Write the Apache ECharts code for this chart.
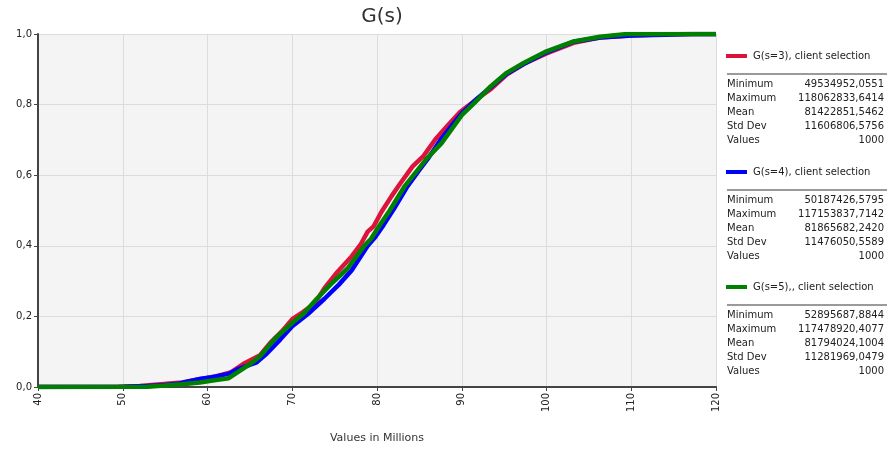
<!DOCTYPE html>
<html>
<head>
<meta charset="utf-8">
<script src="https://cdn.jsdelivr.net/npm/echarts@6/dist/echarts.min.js"></script>
<style>
html,body{margin:0;padding:0;background:#fff;}
#chart{width:890px;height:449px;}
</style>
</head>
<body>
<div id="chart"></div>
<script>
// ---- data (x in millions, cumulative probability) ----
const seriesNames = ['G(s=3), client selection', 'G(s=4), client selection', 'G(s=5),, client selection'];
const seriesColors = ['#dc143c', '#0000ff', '#008000'];

const redX = [40,49.5,52,54.5,57,59,61,62.8,64.2,66.2,67.4,68.8,70,71.3,72.7,73.8,75.3,77.0,78.1,78.9,79.6,80.5,81.7,82.7,84.2,85.5,87.0,88.5,89.8,91.8,93.5,95.3,97.3,100,103.2,106.3,110,114,118.06,120];
const redY = [0,0.001,0.003,0.008,0.013,0.022,0.03,0.042,0.065,0.09,0.125,0.158,0.192,0.213,0.238,0.28,0.325,0.37,0.405,0.44,0.455,0.495,0.54,0.575,0.625,0.655,0.705,0.745,0.779,0.816,0.845,0.885,0.915,0.945,0.975,0.99,0.996,0.999,1,1];

const blueX = [40,50.2,53,55,56.7,59.1,60.5,62.6,63.5,65.8,67,68.6,70,72,73.8,75.5,77,78.9,79.8,80.8,82,83.5,85,86.1,87.5,88.8,90,91.5,93.3,95.3,97.3,100,103.2,106.3,110,114,117.15,120];
const blueY = [0,0.001,0.003,0.006,0.01,0.023,0.028,0.038,0.05,0.07,0.095,0.135,0.172,0.21,0.25,0.29,0.33,0.4,0.425,0.46,0.505,0.565,0.615,0.65,0.7,0.74,0.775,0.81,0.847,0.887,0.915,0.948,0.978,0.99,0.996,0.998,1,1];

const greenX = [40,52.9,55,57,59.1,61,62.5,63.8,65.2,66.2,68,70,71.3,72.9,74.5,76.5,78.5,79.3,80.2,81.5,83.3,85.8,87.6,90,91.5,93.3,95.3,97.3,100,103.2,106.3,109.5,117.48,120];
const greenY = [0,0.001,0.004,0.008,0.013,0.02,0.025,0.046,0.068,0.087,0.138,0.182,0.207,0.25,0.29,0.335,0.4,0.42,0.454,0.5,0.57,0.645,0.69,0.77,0.805,0.849,0.89,0.918,0.951,0.979,0.992,1,1,1];

const statLabels = ['Minimum', 'Maximum', 'Mean', 'Std Dev', 'Values'];
const stats3 = ['49534952,0551', '118062833,6414', '81422851,5462', '11606806,5756', '1000'];
const stats4 = ['50187426,5795', '117153837,7142', '81865682,2420', '11476050,5589', '1000'];
const stats5 = ['52895687,8844', '117478920,4077', '81794024,1004', '11281969,0479', '1000'];

const xTicks = [40, 50, 60, 70, 80, 90, 100, 110, 120];
const yTicks = [0, 0.2, 0.4, 0.6, 0.8, 1.0];

// ---- build ----
const xs = [redX, blueX, greenX];
const ys = [redY, blueY, greenY];
const allStats = [stats3, stats4, stats5];
const blockTops = [58, 174, 289];
const FONT = '"DejaVu Sans", Verdana, sans-serif';

const series = seriesNames.map((n, i) => ({
  name: n,
  type: 'line',
  data: xs[i].map((x, k) => [x, ys[i][k]]),
  showSymbol: false,
  symbol: 'none',
  lineStyle: { color: seriesColors[i], width: 4.5 },
  itemStyle: { color: seriesColors[i] },
  z: 2 + i
}));

const legends = seriesNames.map((n, i) => ({
  data: [n],
  left: 726,
  top: blockTops[i] - 7,
  orient: 'vertical',
  icon: 'rect',
  itemWidth: 21,
  itemHeight: 4,
  itemGap: 4,
  selectedMode: false,
  textStyle: { fontFamily: FONT, fontSize: 10, color: '#222', padding: [0,0,0,1] },
  padding: 0
}));

const graphics = [];
blockTops.forEach((t, i) => {
  graphics.push({
    type: 'line',
    shape: { x1: 727, y1: t + 16, x2: 887, y2: t + 16 },
    style: { stroke: '#9a9a9a', lineWidth: 2 }
  });
  statLabels.forEach((lab, k) => {
    const yy = t + 26 + k * 14;
    graphics.push({
      type: 'text', x: 727, y: yy,
      style: { text: lab, font: '10px ' + FONT, fill: '#222', textVerticalAlign: 'middle', textAlign: 'left' }
    });
    graphics.push({
      type: 'text', x: 884, y: yy,
      style: { text: allStats[i][k], font: '10px ' + FONT, fill: '#222', textVerticalAlign: 'middle', textAlign: 'right' }
    });
  });
});

const chart = echarts.init(document.getElementById('chart'), null, { renderer: 'canvas' });
chart.setOption({
  animation: false,
  backgroundColor: '#ffffff',
  title: {
    text: 'G(s)',
    left: 377,
    textAlign: 'center',
    top: 2,
    textStyle: { fontFamily: FONT, fontSize: 20, fontWeight: 'normal', color: '#333' }
  },
  legend: legends,
  grid: {
    left: 38, right: 174, top: 34, bottom: 56,
    show: true, backgroundColor: '#f4f4f4', borderWidth: 0
  },
  xAxis: {
    type: 'value',
    min: xTicks[0], max: xTicks[xTicks.length - 1], interval: 10,
    name: 'Values in Millions',
    nameLocation: 'middle',
    nameGap: 46,
    nameTextStyle: { fontFamily: FONT, fontSize: 11, color: '#333' },
    axisLine: { show: true, onZero: false, lineStyle: { color: '#444', width: 2 } },
    axisTick: { show: true, length: 4, lineStyle: { color: '#444' } },
    axisLabel: { rotate: 90, fontFamily: FONT, fontSize: 10, color: '#222', margin: 6 },
    splitLine: { show: true, lineStyle: { color: '#dcdcdc', width: 1 } }
  },
  yAxis: {
    type: 'value',
    min: yTicks[0], max: yTicks[yTicks.length - 1], interval: 0.2,
    axisLine: { show: true, lineStyle: { color: '#444', width: 2 } },
    axisTick: { show: true, length: 4, lineStyle: { color: '#444' } },
    axisLabel: {
      fontFamily: FONT, fontSize: 10, color: '#222', margin: 6,
      formatter: v => v.toFixed(1).replace('.', ',')
    },
    splitLine: { show: true, lineStyle: { color: '#dcdcdc', width: 1 } }
  },
  series: series,
  graphic: graphics
});
</script>
</body>
</html>
